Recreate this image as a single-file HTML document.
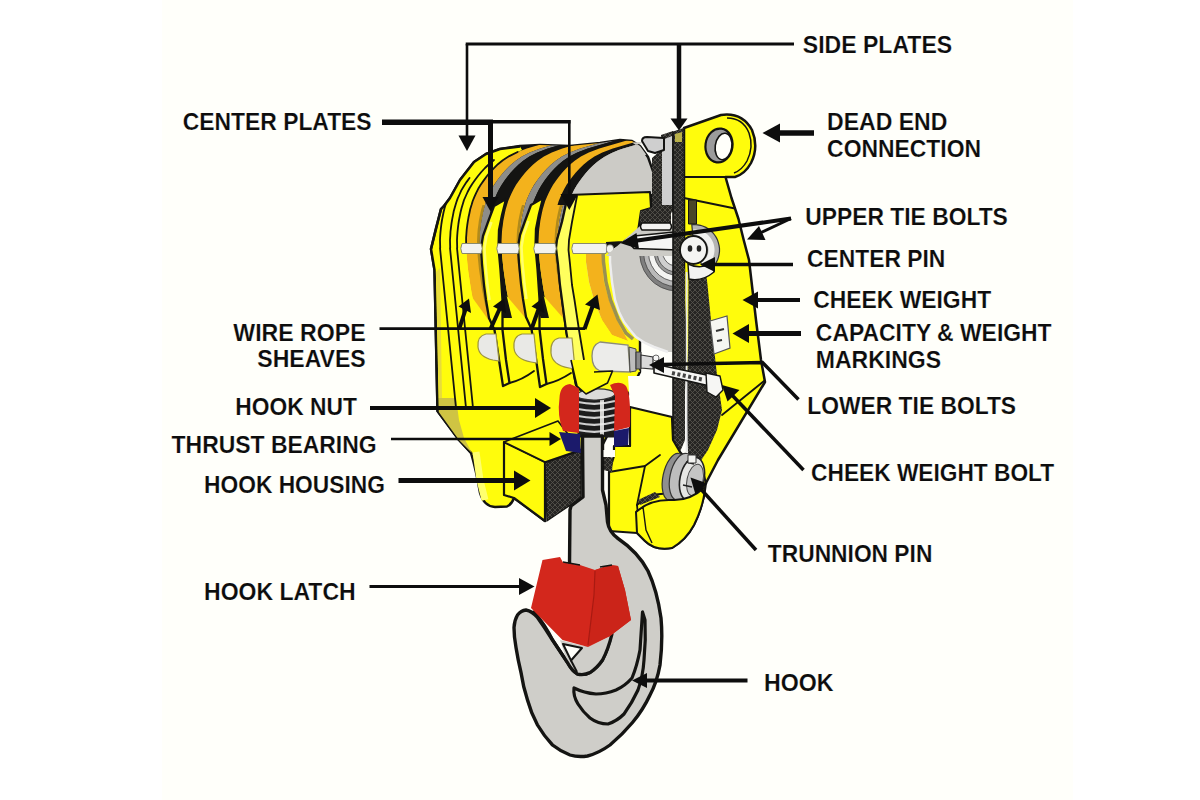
<!DOCTYPE html>
<html><head><meta charset="utf-8"><title>Crane Hook Block Components</title>
<style>
html,body{margin:0;padding:0;background:#ffffff;}
body{width:1200px;height:800px;overflow:hidden;position:relative;}
svg{position:absolute;left:0;top:0;display:block}
.lbl{font-family:"Liberation Sans",sans-serif;font-weight:bold;font-size:24px;fill:#0d0d0d;stroke:#fffffa;stroke-width:0.15px;paint-order:fill;}
.ln{stroke:#0d0d0d;fill:none;stroke-linecap:butt;stroke-linejoin:miter}
.ah{fill:#0d0d0d;stroke:none}
</style></head><body>
<svg width="1200" height="800" viewBox="0 0 1200 800">
<rect x="162" y="0" width="911" height="800" fill="#fffffa"/>
<g id="art">
<defs><pattern id="hatch" width="5" height="5" patternUnits="userSpaceOnUse"><rect width="5" height="5" fill="#262523"/><path d="M0 5 L5 0 M0 0 L5 5" stroke="#57554f" stroke-width="0.8"/></pattern></defs>
<path d="M444 206 L450 198 L460 180 L474 162 L486 154 L500 149 L520 146 L540 145 L570 146 L600 143 L620 140 L632 141 L640 146 L648 157 L654 175 L654 250 L470 250 Z" fill="#141412" stroke="#141412" stroke-width="2.5" stroke-linejoin="round"/>
<path d="M431 249 L434.5 270 L437.5 411 L459 440 L471 453 Q476 470 480 493 Q484 506.5 495 507 L507 506.5 Q512 504 514 498 L545 521 L545 462 L580 450 L600 450 L640 372 L640 250 Z" fill="#fffc0c" stroke="#141412" stroke-width="2.4" stroke-linejoin="round"/>
<defs><clipPath id="topclip"><path d="M430 250 L444 206 L450 198 L460 180 L474 162 L486 154 L500 149 L520 146 L540 145 L570 146 L600 143 L620 140 L632 141 L640 146 L648 157 L654 175 L654 340 L430 340 Z"/></clipPath></defs>
<g clip-path="url(#topclip)">
<path d="M554.3 140.5 L540.5 144.5 L526.8 148.6 L516.3 152.6 L508.4 156.6 L502.2 160.7 L497.4 164.7 L493.3 168.7 L489.6 172.8 L486.4 176.8 L483.4 180.8 L480.6 184.8 L478.2 188.9 L476.2 192.9 L474.4 196.9 L472.7 201.0 L471.5 205.0 L470.3 209.0 L469.4 213.1 L468.6 217.1 L467.8 221.1 L467.3 225.2 L466.7 229.2 L466.4 233.2 L466.2 237.2 L466.0 241.3 L466.2 245.3 L466.3 249.3 L466.5 253.4 L466.8 257.4 L467.2 261.4 L467.6 265.5 L468.0 269.5 L468.6 273.5 L469.2 277.6 L469.8 281.6 L470.4 285.6 L471.0 289.7 L471.8 293.7 L472.6 297.7 L473.4 301.8 L474.3 305.8 L475.3 309.8 L476.3 313.8 L477.4 317.9 L478.6 321.9 L479.8 325.9 L481.0 330.0 L482.4 334.0 L495.9 334.0 L494.5 330.0 L493.3 325.9 L492.1 321.9 L490.9 317.9 L489.8 313.8 L488.8 309.8 L487.8 305.8 L486.9 301.8 L486.1 297.7 L485.3 293.7 L484.5 289.7 L483.9 285.6 L483.3 281.6 L482.7 277.6 L482.1 273.5 L481.5 269.5 L481.1 265.5 L480.7 261.4 L480.3 257.4 L480.0 253.4 L479.8 249.3 L479.7 245.3 L479.5 241.3 L479.7 237.2 L479.9 233.2 L480.2 229.2 L480.8 225.2 L481.3 221.1 L482.1 217.1 L482.9 213.1 L483.8 209.0 L485.0 205.0 L486.2 201.0 L487.9 196.9 L489.7 192.9 L491.7 188.9 L494.1 184.8 L496.9 180.8 L499.9 176.8 L503.1 172.8 L506.8 168.7 L510.9 164.7 L515.7 160.7 L521.9 156.6 L529.8 152.6 L540.3 148.6 L554.0 144.5 L567.8 140.5Z" fill="#f3b21c"/>
<path d="M567.8 140.5 L554.0 144.5 L540.3 148.6 L529.8 152.6 L521.9 156.6 L515.7 160.7 L510.9 164.7 L506.8 168.7 L503.1 172.8 L499.9 176.8 L496.9 180.8 L494.1 184.9 L491.7 188.9 L489.7 192.9 L487.9 197.0 L486.2 201.0 L485.0 205.0 L483.8 209.1 L482.9 213.1 L482.1 217.1 L481.3 221.2 L480.8 225.2 L480.2 229.2 L479.9 233.3 L479.7 237.3 L479.5 241.4 L479.7 245.4 L479.8 249.4 L480.0 253.5 L480.3 257.5 L480.7 261.5 L481.1 265.6 L481.6 269.6 L482.1 273.6 L482.7 277.7 L483.3 281.7 L483.9 285.7 L484.6 289.8 L485.3 293.8 L486.1 297.8 L486.9 301.9 L487.9 305.9 L488.8 309.9 L489.9 314.0 L491.0 318.0 L498.5 318.0 L497.4 314.0 L496.3 309.9 L495.4 305.9 L494.4 301.9 L493.6 297.8 L492.8 293.8 L492.1 289.8 L491.4 285.7 L490.8 281.7 L490.2 277.7 L489.6 273.6 L489.1 269.6 L488.6 265.6 L488.2 261.5 L487.8 257.5 L487.5 253.5 L487.3 249.4 L487.2 245.4 L487.0 241.4 L487.2 237.3 L487.4 233.3 L487.7 229.2 L488.3 225.2 L488.8 221.2 L489.6 217.1 L490.4 213.1 L491.3 209.1 L492.5 205.0 L493.7 201.0 L495.4 197.0 L497.2 192.9 L499.2 188.9 L501.6 184.9 L504.4 180.8 L507.4 176.8 L510.6 172.8 L514.3 168.7 L518.4 164.7 L523.2 160.7 L529.4 156.6 L537.3 152.6 L547.8 148.6 L561.5 144.5 L575.3 140.5Z" fill="#8d8d8a"/>
<path d="M575.3 140.5 L561.5 144.5 L547.8 148.6 L537.3 152.6 L529.4 156.6 L523.2 160.7 L518.4 164.7 L514.3 168.7 L510.6 172.8 L507.4 176.8 L504.4 180.8 L501.6 184.9 L499.2 188.9 L497.2 192.9 L495.4 197.0 L493.7 201.0 L492.5 205.0 L491.3 209.1 L490.4 213.1 L489.6 217.1 L488.8 221.2 L488.3 225.2 L487.7 229.2 L487.4 233.3 L487.2 237.3 L487.0 241.4 L487.2 245.4 L487.3 249.4 L487.5 253.5 L487.8 257.5 L488.2 261.5 L488.6 265.6 L489.1 269.6 L489.6 273.6 L490.2 277.7 L490.8 281.7 L491.4 285.7 L492.1 289.8 L492.8 293.8 L493.6 297.8 L494.4 301.9 L495.4 305.9 L496.3 309.9 L497.4 314.0 L498.5 318.0 L513.0 318.0 L511.9 314.0 L510.8 309.9 L509.9 305.9 L508.9 301.9 L508.1 297.8 L507.3 293.8 L506.6 289.8 L505.9 285.7 L505.3 281.7 L504.7 277.7 L504.1 273.6 L503.6 269.6 L503.1 265.6 L502.7 261.5 L502.3 257.5 L502.0 253.5 L501.8 249.4 L501.7 245.4 L501.5 241.4 L501.7 237.3 L501.9 233.3 L502.2 229.2 L502.8 225.2 L503.3 221.2 L504.1 217.1 L504.9 213.1 L505.8 209.1 L507.0 205.0 L508.2 201.0 L509.9 197.0 L511.7 192.9 L513.7 188.9 L516.1 184.9 L518.9 180.8 L521.9 176.8 L525.1 172.8 L528.8 168.7 L532.9 164.7 L537.7 160.7 L543.9 156.6 L551.8 152.6 L562.3 148.6 L576.0 144.5 L589.8 140.5Z" fill="#141412"/>
<path d="M589.8 140.5 L576.0 144.5 L562.3 148.6 L551.8 152.6 L543.9 156.6 L537.7 160.7 L532.9 164.7 L528.8 168.7 L525.1 172.8 L521.9 176.8 L518.9 180.8 L516.1 184.8 L513.7 188.9 L511.7 192.9 L509.9 196.9 L508.2 201.0 L507.0 205.0 L505.8 209.0 L504.9 213.1 L504.1 217.1 L503.3 221.1 L502.8 225.2 L502.2 229.2 L501.9 233.2 L501.7 237.2 L501.5 241.3 L501.7 245.3 L501.8 249.3 L502.0 253.4 L502.3 257.4 L502.7 261.4 L503.1 265.5 L503.5 269.5 L504.1 273.5 L504.7 277.6 L505.3 281.6 L505.9 285.6 L506.5 289.7 L507.3 293.7 L508.1 297.7 L508.9 301.8 L509.8 305.8 L510.8 309.8 L511.8 313.8 L512.9 317.9 L514.1 321.9 L515.3 325.9 L516.5 330.0 L517.9 334.0 L535.9 334.0 L534.5 330.0 L533.3 325.9 L532.1 321.9 L530.9 317.9 L529.8 313.8 L528.8 309.8 L527.8 305.8 L526.9 301.8 L526.1 297.7 L525.3 293.7 L524.5 289.7 L523.9 285.6 L523.3 281.6 L522.7 277.6 L522.1 273.5 L521.5 269.5 L521.1 265.5 L520.7 261.4 L520.3 257.4 L520.0 253.4 L519.8 249.3 L519.7 245.3 L519.5 241.3 L519.7 237.2 L519.9 233.2 L520.2 229.2 L520.8 225.2 L521.3 221.1 L522.1 217.1 L522.9 213.1 L523.8 209.0 L525.0 205.0 L526.2 201.0 L527.9 196.9 L529.7 192.9 L531.7 188.9 L534.1 184.8 L536.9 180.8 L539.9 176.8 L543.1 172.8 L546.8 168.7 L550.9 164.7 L555.7 160.7 L561.9 156.6 L569.8 152.6 L580.3 148.6 L594.0 144.5 L607.8 140.5Z" fill="#f3b21c"/>
<path d="M607.8 140.5 L594.0 144.5 L580.3 148.6 L569.8 152.6 L561.9 156.6 L555.7 160.7 L550.9 164.7 L546.8 168.7 L543.1 172.8 L539.9 176.8 L536.9 180.8 L534.1 184.9 L531.7 188.9 L529.7 192.9 L527.9 197.0 L526.2 201.0 L525.0 205.0 L523.8 209.1 L522.9 213.1 L522.1 217.1 L521.3 221.2 L520.8 225.2 L520.2 229.2 L519.9 233.3 L519.7 237.3 L519.5 241.4 L519.7 245.4 L519.8 249.4 L520.0 253.5 L520.3 257.5 L520.7 261.5 L521.1 265.6 L521.6 269.6 L522.1 273.6 L522.7 277.7 L523.3 281.7 L523.9 285.7 L524.6 289.8 L525.3 293.8 L526.1 297.8 L526.9 301.9 L527.9 305.9 L528.8 309.9 L529.9 314.0 L531.0 318.0 L538.5 318.0 L537.4 314.0 L536.3 309.9 L535.4 305.9 L534.4 301.9 L533.6 297.8 L532.8 293.8 L532.1 289.8 L531.4 285.7 L530.8 281.7 L530.2 277.7 L529.6 273.6 L529.1 269.6 L528.6 265.6 L528.2 261.5 L527.8 257.5 L527.5 253.5 L527.3 249.4 L527.2 245.4 L527.0 241.4 L527.2 237.3 L527.4 233.3 L527.7 229.2 L528.3 225.2 L528.8 221.2 L529.6 217.1 L530.4 213.1 L531.3 209.1 L532.5 205.0 L533.7 201.0 L535.4 197.0 L537.2 192.9 L539.2 188.9 L541.6 184.9 L544.4 180.8 L547.4 176.8 L550.6 172.8 L554.3 168.7 L558.4 164.7 L563.2 160.7 L569.4 156.6 L577.3 152.6 L587.8 148.6 L601.5 144.5 L615.3 140.5Z" fill="#8d8d8a"/>
<path d="M615.3 140.5 L601.5 144.5 L587.8 148.6 L577.3 152.6 L569.4 156.6 L563.2 160.7 L558.4 164.7 L554.3 168.7 L550.6 172.8 L547.4 176.8 L544.4 180.8 L541.6 184.9 L539.2 188.9 L537.2 192.9 L535.4 197.0 L533.7 201.0 L532.5 205.0 L531.3 209.1 L530.4 213.1 L529.6 217.1 L528.8 221.2 L528.3 225.2 L527.7 229.2 L527.4 233.3 L527.2 237.3 L527.0 241.4 L527.2 245.4 L527.3 249.4 L527.5 253.5 L527.8 257.5 L528.2 261.5 L528.6 265.6 L529.1 269.6 L529.6 273.6 L530.2 277.7 L530.8 281.7 L531.4 285.7 L532.1 289.8 L532.8 293.8 L533.6 297.8 L534.4 301.9 L535.4 305.9 L536.3 309.9 L537.4 314.0 L538.5 318.0 L550.0 318.0 L548.9 314.0 L547.8 309.9 L546.9 305.9 L545.9 301.9 L545.1 297.8 L544.3 293.8 L543.6 289.8 L542.9 285.7 L542.3 281.7 L541.7 277.7 L541.1 273.6 L540.6 269.6 L540.1 265.6 L539.7 261.5 L539.3 257.5 L539.0 253.5 L538.8 249.4 L538.7 245.4 L538.5 241.4 L538.7 237.3 L538.9 233.3 L539.2 229.2 L539.8 225.2 L540.3 221.2 L541.1 217.1 L541.9 213.1 L542.8 209.1 L544.0 205.0 L545.2 201.0 L546.9 197.0 L548.7 192.9 L550.7 188.9 L553.1 184.9 L555.9 180.8 L558.9 176.8 L562.1 172.8 L565.8 168.7 L569.9 164.7 L574.7 160.7 L580.9 156.6 L588.8 152.6 L599.3 148.6 L613.0 144.5 L626.8 140.5Z" fill="#141412"/>
<path d="M626.8 140.5 L613.0 144.5 L599.3 148.6 L588.8 152.6 L580.9 156.6 L574.7 160.7 L569.9 164.7 L565.8 168.7 L562.1 172.8 L558.9 176.8 L555.9 180.8 L553.1 184.8 L550.7 188.9 L548.7 192.9 L546.9 196.9 L545.2 201.0 L544.0 205.0 L542.8 209.0 L541.9 213.1 L541.1 217.1 L540.3 221.1 L539.8 225.2 L539.2 229.2 L538.9 233.2 L538.7 237.2 L538.5 241.3 L538.7 245.3 L538.8 249.3 L539.0 253.4 L539.3 257.4 L539.7 261.4 L540.1 265.5 L540.5 269.5 L541.1 273.5 L541.7 277.6 L542.3 281.6 L542.9 285.6 L543.5 289.7 L544.3 293.7 L545.1 297.7 L545.9 301.8 L546.8 305.8 L547.8 309.8 L548.8 313.8 L549.9 317.9 L551.1 321.9 L552.3 325.9 L553.5 330.0 L554.9 334.0 L573.9 334.0 L572.5 330.0 L571.3 325.9 L570.1 321.9 L568.9 317.9 L567.8 313.8 L566.8 309.8 L565.8 305.8 L564.9 301.8 L564.1 297.7 L563.3 293.7 L562.5 289.7 L561.9 285.6 L561.3 281.6 L560.7 277.6 L560.1 273.5 L559.5 269.5 L559.1 265.5 L558.7 261.4 L558.3 257.4 L558.0 253.4 L557.8 249.3 L557.7 245.3 L557.5 241.3 L557.7 237.2 L557.9 233.2 L558.2 229.2 L558.8 225.2 L559.3 221.1 L560.1 217.1 L560.9 213.1 L561.8 209.0 L563.0 205.0 L564.2 201.0 L565.9 196.9 L567.7 192.9 L569.7 188.9 L572.1 184.8 L574.9 180.8 L577.9 176.8 L581.1 172.8 L584.8 168.7 L588.9 164.7 L593.7 160.7 L599.9 156.6 L607.8 152.6 L618.3 148.6 L632.0 144.5 L645.8 140.5Z" fill="#f3b21c"/>
<path d="M645.8 140.5 L632.0 144.5 L618.3 148.6 L607.8 152.6 L599.9 156.6 L593.7 160.7 L588.9 164.7 L584.8 168.7 L581.1 172.8 L577.9 176.8 L574.9 180.8 L572.1 184.9 L569.7 188.9 L567.7 192.9 L565.9 197.0 L564.2 201.0 L563.0 205.0 L561.8 209.1 L560.9 213.1 L560.1 217.1 L559.3 221.2 L558.8 225.2 L558.2 229.2 L557.9 233.3 L557.7 237.3 L557.5 241.4 L557.7 245.4 L557.8 249.4 L558.0 253.5 L558.3 257.5 L558.7 261.5 L559.1 265.6 L559.6 269.6 L560.1 273.6 L560.7 277.7 L561.3 281.7 L561.9 285.7 L562.6 289.8 L563.3 293.8 L564.1 297.8 L564.9 301.9 L565.9 305.9 L566.8 309.9 L567.9 314.0 L569.0 318.0 L574.0 318.0 L572.9 314.0 L571.8 309.9 L570.9 305.9 L569.9 301.9 L569.1 297.8 L568.3 293.8 L567.6 289.8 L566.9 285.7 L566.3 281.7 L565.7 277.7 L565.1 273.6 L564.6 269.6 L564.1 265.6 L563.7 261.5 L563.3 257.5 L563.0 253.5 L562.8 249.4 L562.7 245.4 L562.5 241.4 L562.7 237.3 L562.9 233.3 L563.2 229.2 L563.8 225.2 L564.3 221.2 L565.1 217.1 L565.9 213.1 L566.8 209.1 L568.0 205.0 L569.2 201.0 L570.9 197.0 L572.7 192.9 L574.7 188.9 L577.1 184.9 L579.9 180.8 L582.9 176.8 L586.1 172.8 L589.8 168.7 L593.9 164.7 L598.7 160.7 L604.9 156.6 L612.8 152.6 L623.3 148.6 L637.0 144.5 L650.8 140.5Z" fill="#8d8d8a"/>
<path d="M650.8 140.5 L637.0 144.5 L623.3 148.6 L612.8 152.6 L604.9 156.6 L598.7 160.7 L593.9 164.7 L589.8 168.7 L586.1 172.8 L582.9 176.8 L579.9 180.8 L577.1 184.9 L574.7 188.9 L572.7 192.9 L570.9 197.0 L569.2 201.0 L568.0 205.0 L566.8 209.1 L565.9 213.1 L565.1 217.1 L564.3 221.2 L563.8 225.2 L563.2 229.2 L562.9 233.3 L562.7 237.3 L562.5 241.4 L562.7 245.4 L562.8 249.4 L563.0 253.5 L563.3 257.5 L563.7 261.5 L564.1 265.6 L564.6 269.6 L565.1 273.6 L565.7 277.7 L566.3 281.7 L566.9 285.7 L567.6 289.8 L568.3 293.8 L569.1 297.8 L569.9 301.9 L570.9 305.9 L571.8 309.9 L572.9 314.0 L574.0 318.0 L611.5 318.0 L610.4 314.0 L609.3 309.9 L608.4 305.9 L607.4 301.9 L606.6 297.8 L605.8 293.8 L605.1 289.8 L604.4 285.7 L603.8 281.7 L603.2 277.7 L602.6 273.6 L602.1 269.6 L601.6 265.6 L601.2 261.5 L600.8 257.5 L600.5 253.5 L600.3 249.4 L600.2 245.4 L600.0 241.4 L600.2 237.3 L600.4 233.3 L600.7 229.2 L601.3 225.2 L601.8 221.2 L602.6 217.1 L603.4 213.1 L604.3 209.1 L605.5 205.0 L606.7 201.0 L608.4 197.0 L610.2 192.9 L612.2 188.9 L614.6 184.9 L617.4 180.8 L620.4 176.8 L623.6 172.8 L627.3 168.7 L631.4 164.7 L636.2 160.7 L642.4 156.6 L650.3 152.6 L660.8 148.6 L674.5 144.5 L688.3 140.5Z" fill="#cccbc6"/>
<path d="M640.3 140.5 L626.5 144.5 L612.8 148.6 L602.3 152.6 L594.4 156.6 L588.2 160.7 L583.4 164.7 L579.3 168.7 L575.6 172.8 L572.4 176.8 L569.4 180.8 L566.6 184.8 L564.2 188.9 L562.2 192.9 L560.4 196.9 L558.7 201.0 L557.5 205.0 L568.0 205.0 L569.2 201.0 L570.9 196.9 L572.7 192.9 L574.7 188.9 L577.1 184.8 L579.9 180.8 L582.9 176.8 L586.1 172.8 L589.8 168.7 L593.9 164.7 L598.7 160.7 L604.9 156.6 L612.8 152.6 L623.3 148.6 L637.0 144.5 L650.8 140.5Z" fill="#141412"/>
<path d="M650.8 140.5 L637.0 144.5 L623.3 148.6 L612.8 152.6 L604.9 156.6 L598.7 160.7 L593.9 164.7 L589.8 168.7 L586.1 172.8 L582.9 176.8 L579.9 180.8 L577.1 184.8 L574.7 188.9 L572.7 192.9 L570.9 196.9 L569.2 201.0 L568.0 205.0 L570.5 205.0 L571.7 201.0 L573.4 196.9 L575.2 192.9 L577.2 188.9 L579.6 184.8 L582.4 180.8 L585.4 176.8 L588.6 172.8 L592.3 168.7 L596.4 164.7 L601.2 160.7 L607.4 156.6 L615.3 152.6 L625.8 148.6 L639.5 144.5 L653.3 140.5Z" fill="#8d8d8a"/>
</g>
<path d="M482.5 205.0 L481.3 209.0 L480.4 213.1 L479.6 217.1 L478.8 221.1 L478.3 225.2 L477.7 229.2 L477.4 233.2 L477.2 237.3 L477.0 241.3 L477.2 245.3 L477.3 249.4 L477.5 253.4 L477.8 257.4 L478.2 261.5 L478.6 265.5 L479.0 269.5 L479.6 273.5 L480.2 277.6 L480.8 281.6 L481.4 285.6 L482.0 289.7 L482.8 293.7 L483.6 297.7 L484.4 301.8 L485.3 305.8 L486.3 309.8 L487.3 313.9 L488.4 317.9 L489.6 321.9 L490.8 326.0 L492.0 330.0 L494.5 330.0 L493.3 326.0 L492.1 321.9 L490.9 317.9 L489.8 313.9 L488.8 309.8 L487.8 305.8 L486.9 301.8 L486.1 297.7 L485.3 293.7 L484.5 289.7 L483.9 285.6 L483.3 281.6 L482.7 277.6 L482.1 273.5 L481.5 269.5 L481.1 265.5 L480.7 261.5 L480.3 257.4 L480.0 253.4 L479.8 249.4 L479.7 245.3 L479.5 241.3 L479.7 237.3 L479.9 233.2 L480.2 229.2 L480.8 225.2 L481.3 221.1 L482.1 217.1 L482.9 213.1 L483.8 209.0 L485.0 205.0Z" fill="#b08a1c"/>
<path d="M522.0 205.0 L520.8 209.0 L519.9 213.1 L519.1 217.1 L518.3 221.1 L517.8 225.2 L517.2 229.2 L516.9 233.2 L516.7 237.3 L516.5 241.3 L516.7 245.3 L516.8 249.4 L517.0 253.4 L517.3 257.4 L517.7 261.5 L518.1 265.5 L518.5 269.5 L519.1 273.5 L519.7 277.6 L520.3 281.6 L520.9 285.6 L521.5 289.7 L522.3 293.7 L523.1 297.7 L523.9 301.8 L524.8 305.8 L525.8 309.8 L526.8 313.9 L527.9 317.9 L529.1 321.9 L530.3 326.0 L531.5 330.0 L534.0 330.0 L532.8 326.0 L531.6 321.9 L530.4 317.9 L529.3 313.9 L528.3 309.8 L527.3 305.8 L526.4 301.8 L525.6 297.7 L524.8 293.7 L524.0 289.7 L523.4 285.6 L522.8 281.6 L522.2 277.6 L521.6 273.5 L521.0 269.5 L520.6 265.5 L520.2 261.5 L519.8 257.4 L519.5 253.4 L519.3 249.4 L519.2 245.3 L519.0 241.3 L519.2 237.3 L519.4 233.2 L519.7 229.2 L520.3 225.2 L520.8 221.1 L521.6 217.1 L522.4 213.1 L523.3 209.0 L524.5 205.0Z" fill="#b08a1c"/>
<path d="M560.0 205.0 L558.8 209.0 L557.9 213.1 L557.1 217.1 L556.3 221.1 L555.8 225.2 L555.2 229.2 L554.9 233.2 L554.7 237.3 L554.5 241.3 L554.7 245.3 L554.8 249.4 L555.0 253.4 L555.3 257.4 L555.7 261.5 L556.1 265.5 L556.5 269.5 L557.1 273.5 L557.7 277.6 L558.3 281.6 L558.9 285.6 L559.5 289.7 L560.3 293.7 L561.1 297.7 L561.9 301.8 L562.8 305.8 L563.8 309.8 L564.8 313.9 L565.9 317.9 L567.1 321.9 L568.3 326.0 L569.5 330.0 L572.0 330.0 L570.8 326.0 L569.6 321.9 L568.4 317.9 L567.3 313.9 L566.3 309.8 L565.3 305.8 L564.4 301.8 L563.6 297.7 L562.8 293.7 L562.0 289.7 L561.4 285.6 L560.8 281.6 L560.2 277.6 L559.6 273.5 L559.0 269.5 L558.6 265.5 L558.2 261.5 L557.8 257.4 L557.5 253.4 L557.3 249.4 L557.2 245.3 L557.0 241.3 L557.2 237.3 L557.4 233.2 L557.7 229.2 L558.3 225.2 L558.8 221.1 L559.6 217.1 L560.4 213.1 L561.3 209.0 L562.5 205.0Z" fill="#b08a1c"/>
<path d="M572.2 194.0 L574.0 190.0 L576.4 186.0 L579.1 182.0 L582.0 178.0 L585.1 174.0 L588.5 170.0 L592.5 166.0 L597.1 162.0 L602.7 158.0 L609.7 154.0 L618.5 150.0 L631.9 146.0 L645.6 142.0 L632 142.5 L640 147.5 L647 158 L652 172 L652 194 Z" fill="#cccbc6"/>
<path d="M471.2 296 L495.7 330 L498.6 337 L481.1 337 Z" fill="#fffc0c"/>
<path d="M485.7 296 L494.7 296 L505.6 336 L496.6 336 Z" fill="#fffc0c"/>
<path d="M506.7 296 L535.7 330 L538.6 337 L516.6 337 Z" fill="#fffc0c"/>
<path d="M525.7 296 L534.7 296 L545.6 336 L536.6 336 Z" fill="#fffc0c"/>
<path d="M543.7 296 L573.7 330 L576.6 337 L553.6 337 Z" fill="#fffc0c"/>
<path d="M563.7 296 L572.7 296 L583.6 336 L574.6 336 Z" fill="#fffc0c"/>
<path d="M431 249 L436 228 L441 209 L444 206 L450 198 L460 180 L474 162 L486 154 L500 149 L520 146.5 L522.0 150.0 L513.1 154.1 L506.0 158.1 L500.4 162.2 L495.8 166.2 L491.8 170.3 L488.3 174.3 L485.2 178.4 L482.3 182.4 L479.6 186.5 L477.3 190.5 L475.4 194.6 L473.6 198.6 L472.2 202.7 L471.0 206.8 L469.8 210.8 L469.0 214.9 L468.2 218.9 L467.6 223.0 L467.0 227.0 L466.5 231.1 L466.3 235.1 L466.0 239.2 L466.1 243.2 L466.2 247.3 L466.4 251.4 L466.7 255.4 L467.0 259.5 L467.4 263.5 L467.8 267.6 L468.3 271.6 L468.9 275.7 L469.5 279.7 L470.1 283.8 L470.8 287.8 L471.5 291.9 L472.2 295.9 L473.0 300.0 L440 300 L434.5 270 Z" fill="#fffc0c"/>
<path d="M431 249 L436 228 L441 209 L444 206 L450 198 L460 180 L474 162 L486 154 L500 149 L520 146.5" fill="none" stroke="#141412" stroke-width="2.5" stroke-linejoin="round"/>
<path d="M441 209 L431 249 L434.5 270 L437.5 411 L459 440 L472 454" fill="none" stroke="#141412" stroke-width="2.5" stroke-linejoin="round"/>
<path d="M436 272 L440 268 L442 398 L438.6 398 Z" fill="#e8dc3c"/>
<path d="M438.6 398 L456 398 L459 420 L464 438 L472 453 L459 440 L438.8 412 Z" fill="#cfc443"/>
<path d="M445.8 204.0 L444.6 208.0 L443.6 212.0 L442.8 216.0 L442.0 220.0 L441.4 224.0 L440.9 228.0 L440.5 232.0 L440.2 236.0 L440.0 240.0 L440.1 244.0 L440.2 248.0 L440.0 248.0 L442.0 268.0 L444.0 288.0 L446.0 308.0 L448.0 328.0 L450.0 348.0 L452.0 368.0 L454.0 388.0 L456.0 408.0" fill="none" stroke="#141412" stroke-width="1.8" stroke-linecap="round" stroke-linejoin="round"/>
<path d="M469.5 178.0 L466.5 182.1 L463.8 186.2 L461.3 190.4 L459.5 194.5 L457.6 198.6 L456.2 202.7 L455.0 206.8 L453.8 210.9 L453.0 215.1 L452.2 219.2 L451.5 223.3 L451.0 227.4 L450.5 231.5 L450.3 235.6 L450.0 239.8 L450.1 243.9 L450.2 248.0 L450.0 248.0 L452.0 268.0 L454.0 288.0 L456.0 308.0 L458.0 328.0 L460.0 348.0 L462.0 368.0 L464.0 388.0 L466.0 408.0" fill="none" stroke="#141412" stroke-width="1.8" stroke-linecap="round" stroke-linejoin="round"/>
<path d="M494.0 160.0 L489.2 164.0 L485.0 168.0 L481.3 172.0 L478.0 176.0 L475.0 180.0 L472.2 184.0 L469.7 188.0 L467.6 192.0 L465.8 196.0 L464.0 200.0 L462.8 204.0 L461.6 208.0 L460.6 212.0 L459.8 216.0 L459.0 220.0 L458.4 224.0 L457.9 228.0 L457.5 232.0 L457.2 236.0 L457.0 240.0 L457.1 244.0 L457.2 248.0 L457.0 248.0 L459.0 268.0 L461.0 288.0 L463.0 308.0 L465.0 328.0 L467.0 348.0 L469.0 368.0 L471.0 388.0 L473.0 408.0" fill="none" stroke="#141412" stroke-width="1.8" stroke-linecap="round" stroke-linejoin="round"/>
<path d="M517.6 152.0 L509.3 156.1 L502.8 160.2 L497.9 164.2 L493.7 168.3 L489.9 172.4 L486.6 176.5 L483.6 180.6 L480.7 184.7 L478.2 188.8 L476.2 192.8 L474.4 196.9 L472.7 201.0 L471.5 205.1 L470.2 209.2 L469.4 213.2 L468.5 217.3 L467.8 221.4 L467.2 225.5 L466.7 229.6 L466.4 233.7 L466.1 237.8 L466.1 241.8 L466.2 245.9 L466.3 250.0" fill="none" stroke="#141412" stroke-width="1.8" stroke-linecap="round" stroke-linejoin="round"/>
<path d="M494.0 206.0 L488.0 222.0 L483.0 236.0 L481.0 248.0 L482.0 264.0 L484.0 285.0 L486.0 300.0 L489.0 318.0 L494.5 330.0 L499.0 360.0 L503.0 386.0 L509.5 383.0 L506.0 360.0 L502.5 330.0 L502.5 300.0 L500.5 270.0 L498.5 248.0 L499.0 230.0 L502.0 215.0 L506.0 199.0Z" fill="#fffc0c" stroke="#141412" stroke-width="2.3" stroke-linejoin="round"/>
<path d="M531.0 205.0 L525.0 221.0 L520.0 235.0 L518.0 247.0 L519.0 263.0 L521.0 284.0 L523.0 299.0 L526.0 317.0 L531.5 329.0 L536.0 359.0 L540.0 387.0 L546.5 384.0 L543.0 359.0 L539.5 329.0 L539.5 299.0 L537.5 269.0 L535.5 247.0 L536.0 229.0 L539.0 214.0 L543.0 198.0Z" fill="#fffc0c" stroke="#141412" stroke-width="2.3" stroke-linejoin="round"/>
<path d="M491.5 222.0 L486.5 236.0 L484.5 248.0 L485.5 264.0 L487.5 285.0 L489.5 300.0" fill="none" stroke="#ffff6e" stroke-width="2.5"/>
<path d="M528.5 221.0 L523.5 235.0 L521.5 247.0 L522.5 263.0 L524.5 284.0 L526.5 299.0" fill="none" stroke="#ffff6e" stroke-width="2.5"/>
<path d="M610 250 L610 262 L612 282 L615 300 L619 312 L624 322 L630 330 L636 337 L645 343 L654 347 L668 352 L676 352 L676 250 Z" fill="#cccbc6"/>
<path d="M610 250 L610 262 L612 282 L615 300 L619 312 L624 322 L630 330 L636 337 L645 343 L654 347 L668 352" fill="none" stroke="#eeeeee" stroke-width="2.5"/>
<path d="M586 250 L586 262 L589 282 L594 300 L602 320 L612 335 L628 341 L622 330 L616 318 L609 300 L604 282 L602 262 L602 250 Z" fill="#f3b21c"/>
<path d="M603 250 L603.5 262 L606 282 L610.5 300 L618 319 L626 333 L633 339" fill="none" stroke="#9a9052" stroke-width="3.5"/>
<path d="M568 195 L650 192 L651 208 L641 211 L638 231 L623 242 L606 243 L606 254 L586 254 L586 262 L589 282 L594 300 L602 320 L612 335 L628 341 L640 372 L612 372 L586 396 L576 385 L571 360 L566 330 L562 300 L560 285 L558 264 L556 248 L557 240 L562 222 Z" fill="#fffc0c"/>
<path d="M586 396 L576 385 L571 360 L566 330 L562 300 L560 285 L558 264 L556 248 L557 240 L562 222 L568 195 L650 192 L651 208 L641 211 L638 231 L623 242 L606 243" fill="none" stroke="#141412" stroke-width="2" stroke-linejoin="round"/>
<path d="M568 196 L577 196 L572 222 L569 240 L568.5 250 L570 264 L572 285 L574.5 300 L579 330 L584 360 L590 388 L586 396 L576 385 L571 360 L566 330 L562 300 L560 285 L558 264 L556 248 L557 240 L562 222 Z" fill="#ffff5e"/>
<path d="M577 196 L572 222 L569 240 L568.5 250 L570 264 L572 285 L574.5 300 L579 330 L584 360 L590 388" fill="none" stroke="#141412" stroke-width="1.8" stroke-linecap="round" stroke-linejoin="round"/>
<path d="M586 396 L576 385 L571 360 L566 330 L562 300 L560 285 L558 264 L556 248 L557 240 L562 222 L568 195" fill="none" stroke="#141412" stroke-width="2.2" stroke-linejoin="round"/>
<path d="M462 243.5 H481 Q483.5 248.5 481 253.5 H462 Q459.5 248.5 462 243.5Z" fill="#f3f3ef" stroke="#8a8a6a" stroke-width="1"/>
<path d="M498 243.5 H518 Q520.5 248.5 518 253.5 H498 Q495.5 248.5 498 243.5Z" fill="#f3f3ef" stroke="#8a8a6a" stroke-width="1"/>
<path d="M535 243.5 H555 Q557.5 248.5 555 253.5 H535 Q532.5 248.5 535 243.5Z" fill="#f3f3ef" stroke="#8a8a6a" stroke-width="1"/>
<path d="M573 243.5 H606 Q608.5 248.5 606 253.5 H573 Q570.5 248.5 573 243.5Z" fill="#f3f3ef" stroke="#8a8a6a" stroke-width="1"/>
<ellipse cx="610" cy="249" rx="3.6" ry="4.2" fill="#f3f3ef" stroke="#777" stroke-width="0.8"/>
<path d="M613 249 L617 246.5 L620 249 L617 251.5Z" fill="#f3f3ef"/>
<path d="M496 334 L486 334 Q477 336 478 347.0 Q479 357 493 360 L499 361 Z" fill="#e9e9e6" stroke="#9c9440" stroke-width="1.2"/>
<path d="M534 334 L522 334 Q513 336 514 348.0 Q515 359 531 362 L537 363 Z" fill="#e9e9e6" stroke="#9c9440" stroke-width="1.2"/>
<path d="M572 338 L559 338 Q550 340 551 353.0 Q552 365 569 368 L575 369 Z" fill="#e9e9e6" stroke="#9c9440" stroke-width="1.2"/>
<path d="M509.5 383 Q522 380 534 371" fill="none" stroke="#141412" stroke-width="1.8" stroke-linecap="round" stroke-linejoin="round"/>
<path d="M546.5 384 Q559 381 571 373" fill="none" stroke="#141412" stroke-width="1.8" stroke-linecap="round" stroke-linejoin="round"/>
<path d="M640 246 A37 38.9 0 0 0 677 290.9 L677 246Z" fill="#7f7f7f" stroke="#444" stroke-width="0.8"/>
<path d="M644 246 A33 34.6 0 0 0 677 286.6 L677 246Z" fill="#b9b9b9" stroke="#444" stroke-width="0.8"/>
<path d="M649 246 A28 29.4 0 0 0 677 281.4 L677 246Z" fill="#f4f4f2" stroke="#444" stroke-width="0.8"/>
<path d="M655 246 A22 23.1 0 0 0 677 275.1 L677 246Z" fill="#9a9a9a" stroke="#444" stroke-width="0.8"/>
<path d="M658 246 A19 19.9 0 0 0 677 271.9 L677 246Z" fill="#cfcfcf" stroke="#444" stroke-width="0.8"/>
<path d="M664 246 A13 13.7 0 0 0 677 265.6 L677 246Z" fill="#f4f4f2" stroke="#444" stroke-width="0.8"/>
<path d="M606 256 L640 226 L676 226 L676 256Z" fill="#cccbc6"/>
<path d="M652 158 L661 150 L661 135 L673 131 L673 212 L641 222 L641 212 L652 207 Z" fill="url(#hatch)"/>
<path d="M662 140 L672 136 L672 205 L662 205 Z" fill="#cfcfcf"/>
<path d="M642 141 Q642 137 647 137 L664 138 L664 150 L655 153 L648 151 Z" fill="#cfcfcf" stroke="#141412" stroke-width="2" stroke-linejoin="round"/>
<path d="M640 211 L671 208 L671 224 L640 224Z" fill="url(#hatch)"/>
<path d="M642 223 H670 Q673 226.5 670 230 H642 Q639 226.5 642 223Z" fill="#f4f4f2" stroke="#141412" stroke-width="1.5"/>
<path d="M629 243 L634 236 L679 231.5 L679 250 L634 248.5 Z" fill="#f6f6f4" stroke="#141412" stroke-width="1.6" stroke-linejoin="round"/>
<path d="M684 128 L721 115 Q742 112 752 130 Q759 147 751 163 Q745 174 735 177 L725.5 177 L731.5 198 L738.5 219 L743.7 240 L749 260 L756 320 L761 360 L765 382 L718 460 L706 483 L690 470 L684 300 Z" fill="#fffc0c" stroke="#141412" stroke-width="2.5" stroke-linejoin="round"/>
<path d="M727 118 Q743 118 749 133 Q754 147 747 161 Q742 170 734 173" fill="none" stroke="#141412" stroke-width="1.5"/>
<path d="M684 177 L726 177" fill="none" stroke="#141412" stroke-width="1.8" stroke-linecap="round" stroke-linejoin="round"/>
<path d="M684 198 L735 208.5" fill="none" stroke="#141412" stroke-width="1.8" stroke-linecap="round" stroke-linejoin="round"/>
<path d="M764 381 L722 415" fill="none" stroke="#141412" stroke-width="1.8" stroke-linecap="round" stroke-linejoin="round"/>
<ellipse cx="719" cy="145.5" rx="13.5" ry="17" transform="rotate(8 719 145.5)" fill="#9b9b9b" stroke="#141412" stroke-width="2.2"/>
<ellipse cx="723.5" cy="146.5" rx="8.3" ry="13.3" transform="rotate(8 723.5 146.5)" fill="#fffffa" stroke="#141412" stroke-width="1.6"/>
<path d="M688.5 200 H696.5 V224 H688.5Z" fill="#4a4628" stroke="#141412" stroke-width="1"/>
<path d="M673 131.5 L683.5 128 L684 272 L673 272 Z" fill="url(#hatch)"/>
<path d="M675 134 L682 132 L682 142 L675 142Z" fill="#b8b04a"/>
<path d="M673 268 L685 268 L685 440 L680 452 L673 440 Z" fill="url(#hatch)"/>
<path d="M688.5 272 L706 272 L707.5 285 L712 330 L717 375 L722 410 L717 430 L708 450 L700 462 L692 465 L688 455 L687.5 440 Z" fill="url(#hatch)"/>
<path d="M686.6 272 V452" fill="none" stroke="#e8e8e8" stroke-width="1.8"/>
<path d="M673 131.5 V440" fill="none" stroke="#141412" stroke-width="1.6"/>
<path d="M691.8 224.6 L694.7 224.5 L697.6 224.8 L700.4 225.3 L703.2 226.2 L705.9 227.4 L708.4 228.9 L710.7 230.7 L712.8 232.7 L714.6 235.0 L716.2 237.4 L717.5 240.0 L718.4 242.8 L719.1 245.6 L719.5 248.5 L719.5 251.4 L719.1 254.3 L718.5 257.1 L717.5 259.9 L716.2 262.5 L714.7 264.9 L712.8 267.2 L710.8 269.2 L708.5 271.0 L706.0 272.5 L699.6 260.6 L700.8 259.9 L701.9 259.0 L702.9 258.1 L703.7 257.0 L704.5 255.9 L705.1 254.6 L705.5 253.3 L705.8 252.0 L706.0 250.7 L706.0 249.3 L705.8 247.9 L705.5 246.6 L705.0 245.3 L704.4 244.1 L703.7 242.9 L702.8 241.9 L701.8 240.9 L700.8 240.1 L699.6 239.4 L698.3 238.8 L697.0 238.4 L695.7 238.1 L694.3 238.0 L693.0 238.0Z" fill="#b4b4b4" stroke="#333" stroke-width="1.2"/>
<path d="M693.3 229.5 L695.5 229.6 L697.8 229.9 L700.0 230.4 L702.1 231.2 L704.1 232.2 L706.0 233.4 L707.8 234.8 L709.4 236.5 L710.8 238.2 L712.0 240.2 L713.0 242.2 L713.7 244.3 L714.2 246.6 L714.5 248.8 L714.5 251.1 L714.2 253.3 L713.7 255.5 L713.0 257.7 L712.0 259.7 L710.9 261.7 L709.5 263.4 L707.9 265.1 L706.1 266.5 L704.2 267.8 L701.2 262.6 L702.6 261.7 L703.8 260.7 L704.9 259.5 L705.9 258.2 L706.8 256.9 L707.4 255.4 L708.0 253.9 L708.3 252.4 L708.5 250.8 L708.5 249.2 L708.3 247.6 L707.9 246.0 L707.4 244.5 L706.7 243.0 L705.9 241.7 L704.9 240.4 L703.8 239.3 L702.5 238.3 L701.2 237.4 L699.7 236.7 L698.2 236.1 L696.7 235.8 L695.1 235.5 L693.5 235.5Z" fill="#f1f1ef"/>
<path d="M688 264 Q700 270 713 263 L714 272 Q702 282 689 279Z" fill="#f3f3f1" stroke="#141412" stroke-width="1.4"/>
<ellipse cx="693.5" cy="250" rx="13.5" ry="14" fill="#f4f4f2" stroke="#141412" stroke-width="1.8"/>
<ellipse cx="690" cy="248.5" rx="2.3" ry="3.2" fill="#222"/>
<ellipse cx="699" cy="248.5" rx="2.3" ry="3.2" fill="#222"/>
<path d="M710 321 L727 316 L730 348 L714 354Z" fill="#f6f6f2" stroke="#555" stroke-width="1.2"/>
<path d="M716 331 L724 329 M717 341 L722 340" fill="none" stroke="#333" stroke-width="2"/>
<path d="M628 376 L672 376 L672 418 L630 408 Z" fill="#fffffa"/>
<path d="M630 407 L672 417 L673 440 L680 452 L692 465 L700 462 L706 483 Q704 505 694 525 Q686 540 672 548 Q655 551 645 541 L637 533 L609 531 L609 472 L614 456 L614 446 L630 446 Z" fill="#fffc0c" stroke="#141412" stroke-width="2.2" stroke-linejoin="round"/>
<path d="M609 472 L645 466 L660 455" fill="none" stroke="#141412" stroke-width="1.8" stroke-linecap="round" stroke-linejoin="round"/>
<path d="M645 466 L637 505 L640 535" fill="none" stroke="#141412" stroke-width="1.8" stroke-linecap="round" stroke-linejoin="round"/>
<path d="M637 505 Q650 492 668 494" fill="none" stroke="#141412" stroke-width="1.8" stroke-linecap="round" stroke-linejoin="round"/>
<path d="M630 446 L630 408" fill="none" stroke="#141412" stroke-width="1.8" stroke-linecap="round" stroke-linejoin="round"/>
<path d="M600 342 L628 345 L630 372 L600 371 Q592 368 592 356 Q592 345 600 342Z" fill="#ececea" stroke="#8c8c7a" stroke-width="1.3"/>
<path d="M629 347 L636 349 L636 371 L630 372Z" fill="#bdbdbd" stroke="#444" stroke-width="1"/>
<path d="M636 352 L641 352 L641 369 L636 369Z" fill="#8a8a8a" stroke="#333" stroke-width="1"/>
<path d="M641 355 L653 357 L653 369 L641 368Z" fill="#d9d9d9" stroke="#333" stroke-width="1.2"/>
<ellipse cx="656" cy="358" rx="3" ry="3" fill="#f6f6f4" stroke="#444" stroke-width="0.8"/>
<path d="M654 364 L716 377 L714 387 L654 373Z" fill="#f6f6f4" stroke="#141412" stroke-width="1.6" stroke-linejoin="round"/>
<path d="M672 373 L702 379.5" fill="none" stroke="#444" stroke-width="4" stroke-dasharray="3 2.5"/>
<path d="M706 373 L720 376 L723 390 L716 397 L707 392Z" fill="#f6f6f4" stroke="#141412" stroke-width="1.4" stroke-linejoin="round"/>
<path d="M504 442 L545 462 L545 521 L514 498 L504 495 Z" fill="#fffc0c" stroke="#141412" stroke-width="2.2" stroke-linejoin="round"/>
<path d="M476 452 L480 480 L485 500" fill="none" stroke="#ffff6e" stroke-width="7"/>
<path d="M504 442 L545 462 L580 450 L558 421 Z" fill="#fffc0c" stroke="#141412" stroke-width="1.6" stroke-linejoin="round"/>
<path d="M545 463 L581 451 L581 498 L569 506 L547 521 Z" fill="url(#hatch)" stroke="#141412" stroke-width="1.2"/>
<path d="M603 455 L613 458 L612 472 L603 470Z" fill="url(#hatch)"/>
<path d="M602 450 L615 450 L615 457 L602 457Z" fill="#fffffa"/>
<path d="M577.5 396 L615 394 L615 437.5 L577.5 437.5Z" fill="#1c1c1c"/>
<path d="M578 402 Q596 406 615 401" fill="none" stroke="#d0d0d0" stroke-width="2.2"/>
<path d="M578 409 Q596 413 615 408" fill="none" stroke="#d0d0d0" stroke-width="2.2"/>
<path d="M578 416 Q596 420 615 415" fill="none" stroke="#d0d0d0" stroke-width="2.2"/>
<path d="M578 423 Q596 427 615 422" fill="none" stroke="#d0d0d0" stroke-width="2.2"/>
<path d="M578 430 Q596 434 615 429" fill="none" stroke="#d0d0d0" stroke-width="2.2"/>
<path d="M600 398 L604 398 L604 436 L600 436Z" fill="#f2f2f0" opacity="0.85"/>
<ellipse cx="596" cy="394.5" rx="19" ry="5.5" transform="rotate(-2 596 394.5)" fill="#dcdcda" stroke="#333" stroke-width="1.2"/>
<path d="M559.5 398 Q560 385 570 384 L579 388 L579 433 L563 431 Q557 416 559.5 398 Z" fill="#d3271c"/>
<path d="M610 385 Q620 380 626 386 Q631 394 630 427 L614 431 L615 396 Z" fill="#d3271c"/>
<path d="M571 360 L591 360 L594 372 L612.5 371 L607.5 383 L586 394 L577 386 Z" fill="#fffc0c"/>
<path d="M594 372 L612.5 371 L607.5 383 L586 394 L577 386 L571 360" fill="none" stroke="#141412" stroke-width="1.6" stroke-linejoin="round"/>
<path d="M559 432 L580 434 L581 453 L566 451 Z" fill="#1b1a6b"/>
<path d="M614 431 L629 428 L628 445 L614 447 Z" fill="#1b1a6b"/>
<ellipse cx="674" cy="477" rx="11" ry="24" transform="rotate(12 674 477)" fill="#8f8f8f" stroke="#333" stroke-width="1.2"/>
<ellipse cx="682" cy="477" rx="12" ry="24" transform="rotate(12 682 477)" fill="#bdbdbd" stroke="#333" stroke-width="1.2"/>
<ellipse cx="692" cy="479" rx="12" ry="22" transform="rotate(12 692 479)" fill="#e6e6e4" stroke="#222" stroke-width="1.6"/>
<ellipse cx="695" cy="480" rx="8" ry="16" transform="rotate(12 695 480)" fill="#c4c4c4" stroke="#444" stroke-width="1"/>
<path d="M686 462 L694 464 M683 485 L692 487" fill="none" stroke="#222" stroke-width="1.5"/>
<path d="M688 455 L696 455 L696 463 L688 463Z" fill="#f3f3f1" stroke="#333" stroke-width="1"/>
<path d="M636 512 Q650 499 672 500 Q690 501 705 487 Q704 505 694 525 Q686 540 672 548 Q655 551 645 541 L637 533 Z" fill="#fffc0c" stroke="#141412" stroke-width="2" stroke-linejoin="round"/>
<path d="M636 512 L643 507 L646 530 L652 543" fill="none" stroke="#141412" stroke-width="1.4"/>
<path d="M640 505 L660 497 L655 492 L638 500Z" fill="url(#hatch)"/>
<path d="M582.5 436 L602.5 436 L602.5 490 L606 505 L607.5 522 Q609 532 618 538.5 Q638 552 648 571 Q657 590 661 618 Q663 640 660 665 Q657 682 650 695 Q643 710 632.5 722.5 Q622 735 610 745 Q599 753 587.5 756 Q578 757.5 570 755 Q560 751 552.5 745 Q544 736 537.5 725 Q531 713 527.5 700 Q523 686 521 672.5 Q518 660 516 647.5 Q514 637 514 627.5 Q514.5 620 517.5 615 Q521 610.5 526 610 Q532 611 537.5 617.5 Q545 628 552.5 640 L567.5 662.5 Q572 671 577.5 674 Q584 675.5 590 672.5 Q597 668 602.5 660 Q607 651 610 640 L612 600 L569.5 565 L570 510 L571 506 L583 497 Z" fill="#cfcec9" stroke="#141412" stroke-width="3.4" stroke-linejoin="round"/>
<path d="M603.5 450 L615 450 L615 457 L603.5 457Z" fill="#fffffa"/>
<path d="M560 640 L584 646 L614 634 L609 648 L602.5 660 L597 668 L590 672.5 L584 675 L577.5 674 L572 671 L567.5 662.5 Z" fill="#cfcec9"/>
<path d="M563 644 L582 648 L571 660.5 Z" fill="#fffffa" stroke="#141412" stroke-width="2" stroke-linejoin="round"/>
<path d="M571 660.5 L577 672" fill="none" stroke="#141412" stroke-width="2"/>
<path d="M534 612 Q545 624 552.5 640 L567.5 662.5 Q572 671 577.5 674 Q584 675.5 590 672.5 Q597 668 602.5 660 Q608 650 612 634" fill="none" stroke="#141412" stroke-width="3.2" stroke-linecap="round"/>
<path d="M642.5 612 Q641 635 640 650 Q637 666 632 678 Q625 686 616 690 Q606 694 596 694 Q584 693 574 688 Q573 696 578 704 Q583 712 590 718 Q598 724 608 724 Q617 721 624 714 Q632 703 638 690 Q643 676 644 660 Q646 640 645 620 Z" fill="#cfcec9" stroke="#141412" stroke-width="3.2" stroke-linejoin="round"/>
<path d="M542.5 560 L560 557 L563 562.5 L580 565 L595 570 L610 565 L618 566 L625 590 L631 620 L610 636 L588 647 L562.5 640 L531 608 Z" fill="#d3271c"/>
<path d="M595 570 L595 590 L588 646 L610 636 L631 620 L625 590 L618 566 L610 565Z" fill="#cb2419"/>
<path d="M595 571 L594 595 L588 645" fill="none" stroke="#a81a12" stroke-width="1.2"/>
<path d="M563 562 L580 565 M600 567 L612 565" fill="none" stroke="#141412" stroke-width="1.6"/>
</g>
<g id="lines">
<!-- SIDE PLATES -->
<path class="ln" stroke-width="3.2" d="M794 44 H465.7"/>
<path class="ln" stroke-width="2.6" d="M467 44 V137"/>
<path class="ah" d="M458.5 135.5 L475.5 135.5 L467 151 Z"/>
<path class="ln" stroke-width="4.5" d="M679 44 V121"/>
<path class="ah" d="M670.5 118.5 L687.5 118.5 L679 130.5 Z"/>
<!-- CENTER PLATES -->
<path class="ln" stroke-width="5.5" d="M382 122.3 H493"/>
<path class="ln" stroke-width="3.4" d="M492 121.8 H570.5"/>
<path class="ln" stroke-width="5" d="M490.5 122.5 V198"/>
<path class="ah" d="M482.5 197 L498.5 197 L490.5 211.5 Z"/>
<path class="ln" stroke-width="2.6" d="M569.3 120.1 V196"/>
<path class="ah" d="M560.5 194 L578 194 L569.3 210 Z"/>
<!-- DEAD END -->
<path class="ln" stroke-width="5.5" d="M814 133 H776"/>
<path class="ah" d="M762.5 133 L780 123.5 L780 142.5 Z"/>
<!-- UPPER TIE BOLTS -->
<path class="ln" stroke-width="4" d="M791 218.5 L634 241"/>
<path class="ah" d="M620 243 L636.5 233 L639 249 Z"/>
<path class="ln" stroke-width="3" d="M791 218.5 L760 233"/>
<path class="ah" d="M747 239.5 L759 226 L765.5 240 Z"/>
<!-- CENTER PIN -->
<path class="ln" stroke-width="3.5" d="M793 264.5 H712"/>
<path class="ah" d="M700 264.5 L715 257 L715 272 Z"/>
<!-- CHEEK WEIGHT -->
<path class="ln" stroke-width="4" d="M800 300 H756"/>
<path class="ah" d="M742.5 300 L758 291.5 L758 308.5 Z"/>
<!-- CAPACITY -->
<path class="ln" stroke-width="5" d="M801 333.5 H747"/>
<path class="ah" d="M732.5 333.5 L749 324 L749 343 Z"/>
<!-- LOWER TIE BOLTS -->
<path class="ln" stroke-width="3.5" d="M798.5 399.5 L762.5 362.5 L662 364.5"/>
<path class="ah" d="M649 365 L664 357 L664 373 Z"/>
<!-- CHEEK WEIGHT BOLT -->
<path class="ln" stroke-width="3.5" d="M803.5 470 L731 394"/>
<path class="ah" d="M722 385 L739.5 390 L727.5 401.5 Z"/>
<!-- TRUNNION PIN -->
<path class="ln" stroke-width="3.5" d="M756 550 L699 487"/>
<path class="ah" d="M690.5 477.5 L707.5 483.5 L695.5 494.5 Z"/>
<!-- HOOK -->
<path class="ln" stroke-width="4" d="M747.5 680.5 H645"/>
<path class="ah" d="M632 680.5 L647 673 L647 688 Z"/>
<!-- WIRE ROPE SHEAVES -->
<path class="ln" stroke-width="2.6" d="M379.5 328.6 H585"/>
<path class="ln" stroke-width="4" d="M459.5 328 L466 308"/>
<path class="ln" stroke-width="4" d="M490.5 329 L500 308"/>
<path class="ln" stroke-width="4" d="M531.5 329 L539 308"/>
<path class="ln" stroke-width="4" d="M584.5 329 L593 305"/>
<path class="ah" d="M469 298.5 L471 313 L458.5 306.5 Z"/>
<path class="ah" d="M504 298.5 L506 313 L493 306.5 Z"/>
<path class="ah" d="M542 298.5 L544.5 313 L531.5 306.5 Z"/>
<path class="ah" d="M597.5 294.5 L600 310 L585 304.5 Z"/>
<!-- HOOK NUT -->
<path class="ln" stroke-width="4" d="M370 408 H538"/>
<path class="ah" d="M551 408 L535 398 L535 418 Z"/>
<!-- THRUST BEARING -->
<path class="ln" stroke-width="2.5" d="M391 439 H552"/>
<path class="ah" d="M561 439 L549.5 432 L549.5 446 Z"/>
<!-- HOOK HOUSING -->
<path class="ln" stroke-width="5" d="M398.5 480.5 H516"/>
<path class="ah" d="M530.5 480.5 L514 470.5 L514 490.5 Z"/>
<!-- HOOK LATCH -->
<path class="ln" stroke-width="3" d="M369.5 586.5 H521"/>
<path class="ah" d="M534.5 586.5 L519 578 L519 595 Z"/>

</g>
<g class="lbl" id="labels">
<text x="802.85" y="52.50" textLength="149.25" lengthAdjust="spacingAndGlyphs">SIDE PLATES</text>
<text x="182.85" y="130.00" textLength="188.75" lengthAdjust="spacingAndGlyphs">CENTER PLATES</text>
<text x="827.10" y="129.50" textLength="120.25" lengthAdjust="spacingAndGlyphs">DEAD END</text>
<text x="827.10" y="156.50" textLength="154.00" lengthAdjust="spacingAndGlyphs">CONNECTION</text>
<text x="805.35" y="224.50" textLength="202.50" lengthAdjust="spacingAndGlyphs">UPPER TIE BOLTS</text>
<text x="807.10" y="266.50" textLength="138.25" lengthAdjust="spacingAndGlyphs">CENTER PIN</text>
<text x="813.35" y="308.00" textLength="177.75" lengthAdjust="spacingAndGlyphs">CHEEK WEIGHT</text>
<text x="815.85" y="341.25" textLength="235.75" lengthAdjust="spacingAndGlyphs">CAPACITY &amp; WEIGHT</text>
<text x="815.85" y="367.50" textLength="125.25" lengthAdjust="spacingAndGlyphs">MARKINGS</text>
<text x="807.35" y="413.75" textLength="208.75" lengthAdjust="spacingAndGlyphs">LOWER TIE BOLTS</text>
<text x="811.10" y="480.50" textLength="243.00" lengthAdjust="spacingAndGlyphs">CHEEK WEIGHT BOLT</text>
<text x="767.85" y="561.75" textLength="164.50" lengthAdjust="spacingAndGlyphs">TRUNNION PIN</text>
<text x="764.10" y="691.25" textLength="69.50" lengthAdjust="spacingAndGlyphs">HOOK</text>
<text x="233.35" y="341.25" textLength="132.25" lengthAdjust="spacingAndGlyphs">WIRE ROPE</text>
<text x="257.35" y="367.00" textLength="108.25" lengthAdjust="spacingAndGlyphs">SHEAVES</text>
<text x="235.35" y="415.00" textLength="121.50" lengthAdjust="spacingAndGlyphs">HOOK NUT</text>
<text x="171.60" y="453.25" textLength="205.00" lengthAdjust="spacingAndGlyphs">THRUST BEARING</text>
<text x="204.10" y="493.00" textLength="180.75" lengthAdjust="spacingAndGlyphs">HOOK HOUSING</text>
<text x="204.10" y="600.00" textLength="151.50" lengthAdjust="spacingAndGlyphs">HOOK LATCH</text>
</g>
</svg>
</body></html>
